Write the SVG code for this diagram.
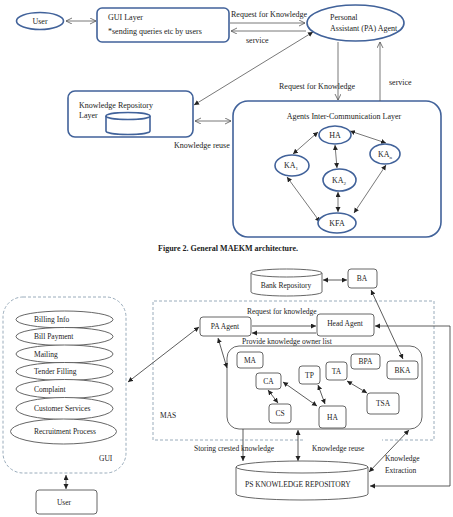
<svg xmlns="http://www.w3.org/2000/svg" width="453" height="517" viewBox="0 0 453 517">
<defs>
<style>
.b{fill:#fff;stroke:#41629a;stroke-width:1.6}
.bn{fill:none;stroke:#41629a;stroke-width:1.6}
.c{stroke:#555;stroke-width:0.8;fill:none}
.k{stroke:#333;stroke-width:0.8;fill:none}
.n{fill:#fff;stroke:#555;stroke-width:0.9}
.nn{fill:none;stroke:#555;stroke-width:0.9}
.d{fill:none;stroke:#8fa3b3;stroke-width:0.9;stroke-dasharray:3 2}
.t{font-family:"Liberation Serif","Times New Roman",serif;font-size:8px;fill:#222}
.s{font-family:"Liberation Serif","Times New Roman",serif;font-size:7.5px;fill:#222}
.m{text-anchor:middle}
</style>
<marker id="o" markerUnits="userSpaceOnUse" markerWidth="8" markerHeight="8" refX="6" refY="3" orient="auto-start-reverse"><path d="M0,0 L6,3 L0,6" fill="none" stroke="#555" stroke-width="0.8"/></marker>
<marker id="f" markerUnits="userSpaceOnUse" markerWidth="8" markerHeight="8" refX="5" refY="2.5" orient="auto-start-reverse"><path d="M0,0 L5,2.5 L0,5 z" fill="#222"/></marker>
</defs>
<rect width="453" height="517" fill="#fff"/>

<g id="aic-layer"><rect class="bn" x="233" y="101" width="208" height="136" rx="15"/><text class="t m" x="344" y="119">Agents Inter-Communication Layer</text></g>
<g id="gui"><rect class="d" x="3" y="297" width="123" height="176" rx="20"/></g>
<g id="mas"><path class="d" d="M303,440 H153 V301 H434 V440 H382"/><text class="s" x="160" y="418">MAS</text></g>
<g id="agents-box"><rect class="nn" x="227" y="346" width="195" height="83" rx="12"/></g>

<g id="connectors">
<line class="c" x1="66" y1="21" x2="96" y2="21" marker-start="url(#o)" marker-end="url(#o)"/>
<line class="c" x1="230" y1="23" x2="305" y2="23" marker-end="url(#o)"/>
<line class="c" x1="306" y1="31" x2="231" y2="31" marker-end="url(#o)"/>
<line class="c" x1="313" y1="32" x2="194" y2="105" marker-start="url(#f)" marker-end="url(#f)"/>
<line class="c" x1="338" y1="42" x2="338" y2="100" stroke="#888" marker-end="url(#o)"/>
<line class="c" x1="380" y1="101" x2="380" y2="42" stroke="#888" marker-end="url(#o)"/>
<line class="c" x1="195" y1="121" x2="231" y2="121" marker-start="url(#o)" marker-end="url(#o)"/>
<line class="c" x1="318" y1="132" x2="293" y2="154" marker-start="url(#f)" marker-end="url(#f)"/>
<line class="c" x1="350" y1="131" x2="386" y2="143" marker-start="url(#f)" marker-end="url(#f)"/>
<line class="c" x1="335" y1="145" x2="337" y2="168" marker-start="url(#f)" marker-end="url(#f)"/>
<line class="c" x1="338" y1="192" x2="338" y2="212" stroke-width="1.4" marker-start="url(#f)" marker-end="url(#f)"/>
<line class="c" x1="287" y1="177" x2="320" y2="222" marker-start="url(#f)" marker-end="url(#f)"/>
<line class="c" x1="386" y1="165" x2="354" y2="213" marker-start="url(#f)" marker-end="url(#f)"/>

<line class="k" x1="323" y1="280" x2="347" y2="280" marker-start="url(#f)" marker-end="url(#f)"/>
<line class="k" x1="371" y1="290" x2="403" y2="359" marker-start="url(#f)" marker-end="url(#f)"/>
<line class="k" x1="252" y1="326" x2="316" y2="326" marker-end="url(#f)"/>
<line class="k" x1="316" y1="333" x2="252" y2="333" marker-end="url(#f)"/>
<polyline class="k" points="450,326 450,486 370,486" marker-end="url(#f)"/>
<line class="k" x1="450" y1="326" x2="375" y2="326" marker-end="url(#f)"/>
<line class="k" x1="218" y1="338" x2="227" y2="368" marker-start="url(#f)" marker-end="url(#f)"/>
<line class="k" x1="128" y1="382" x2="199" y2="327" marker-start="url(#f)" marker-end="url(#f)"/>
<line class="k" x1="66" y1="475" x2="66" y2="489" marker-start="url(#f)" marker-end="url(#f)"/>
<line class="k" x1="268" y1="390" x2="278" y2="403" marker-start="url(#f)" marker-end="url(#f)"/>
<line class="k" x1="283" y1="382" x2="317" y2="406" marker-start="url(#f)" marker-end="url(#f)"/>
<line class="k" x1="318" y1="385" x2="325" y2="404" marker-start="url(#f)" marker-end="url(#f)"/>
<line class="k" x1="347" y1="381" x2="367" y2="393" marker-start="url(#f)" marker-end="url(#f)"/>
<line class="k" x1="243" y1="429" x2="243" y2="461" marker-end="url(#f)"/>
<line class="k" x1="298" y1="430" x2="298" y2="461" marker-start="url(#f)" marker-end="url(#f)"/>
<line class="k" x1="369" y1="472" x2="409" y2="430" marker-start="url(#f)" marker-end="url(#f)"/>
</g>

<g id="user-top"><ellipse class="b" cx="40" cy="21" rx="23.5" ry="8.5"/><text class="t m" x="40" y="24">User</text></g>
<g id="gui-layer"><rect class="b" x="97" y="8" width="132" height="34" rx="5"/><text class="t" x="108" y="20">GUI Layer</text><text class="t" x="108" y="34">*sending queries etc by users</text></g>
<text class="t" x="231" y="17">Request for Knowledge</text>
<text class="t" x="246" y="43">service</text>
<g id="pa-agent-top"><ellipse class="b" cx="355.5" cy="23" rx="48.5" ry="18"/><text class="t" x="330" y="20">Personal</text><text class="t" x="330" y="31">Assistant (PA) Agent</text></g>
<text class="t" x="279" y="89">Request for Knowledge</text>
<text class="t" x="389" y="85">service</text>
<g id="kr-layer"><rect class="b" x="68" y="91" width="125" height="46" rx="7"/><text class="t" x="79" y="108">Knowledge Repository</text><text class="t" x="79" y="118">Layer</text>
<path class="b" d="M106,116 v15 a22,3.5 0 0 0 44,0 v-15"/><ellipse class="b" cx="128" cy="116" rx="22" ry="3.5"/></g>
<text class="t" x="174" y="148">Knowledge reuse</text>
<g id="ha-top"><ellipse class="b" cx="335" cy="135" rx="16" ry="9"/><text class="t m" x="335" y="138">HA</text></g>
<g id="ka1"><ellipse class="b" cx="292" cy="165.5" rx="17" ry="10.5"/><text class="t m" x="291" y="168">KA<tspan font-size="5" dy="2">1</tspan></text></g>
<g id="ka2"><ellipse class="b" cx="339.5" cy="180" rx="16.5" ry="11"/><text class="t m" x="339" y="183">KA<tspan font-size="5" dy="2">2</tspan></text></g>
<g id="kan"><ellipse class="b" cx="385" cy="154" rx="15" ry="10"/><text class="t m" x="385" y="157">KA<tspan font-size="5" dy="2">n</tspan></text></g>
<g id="kfa"><ellipse class="b" cx="337" cy="223" rx="19" ry="10"/><text class="t m" x="337" y="226">KFA</text></g>

<text class="t m" x="228" y="251" font-weight="bold">Figure 2. General MAEKM architecture.</text>

<g id="gui-services">
<ellipse class="n" cx="64.5" cy="319.5" rx="48.5" ry="8.5"/>
<ellipse class="n" cx="64.5" cy="336.5" rx="48.5" ry="9"/>
<ellipse class="n" cx="64.5" cy="354" rx="48.5" ry="9"/>
<ellipse class="n" cx="64.5" cy="371.5" rx="48.5" ry="9"/>
<ellipse class="n" cx="64.5" cy="389" rx="48.5" ry="9.5"/>
<ellipse class="n" cx="64.5" cy="408.5" rx="48.5" ry="11"/>
<ellipse class="n" cx="63.5" cy="431.5" rx="53" ry="12.5"/>
<text class="s" x="34" y="322">Billing Info</text>
<text class="s" x="34" y="339">Bill Payment</text>
<text class="s" x="34" y="356.5">Mailing</text>
<text class="s" x="34" y="374">Tender Filling</text>
<text class="s" x="34" y="391.5">Complaint</text>
<text class="s" x="34" y="411">Customer Services</text>
<text class="s" x="34" y="434">Recruitment Process</text>
<text class="s" x="99" y="461">GUI</text></g>
<g id="user"><rect class="n" x="36" y="490" width="61" height="24" rx="3"/><text class="s m" x="64" y="505">User</text></g>

<g id="bank-repo"><path class="n" d="M251,273 v19 a35.5,4 0 0 0 71,0 v-19"/><ellipse class="n" cx="286.5" cy="273" rx="35.5" ry="4"/><text class="s m" x="286" y="288">Bank Repository</text></g>
<g id="ba"><rect class="n" x="348" y="269" width="29" height="19" rx="3"/><text class="s m" x="362" y="281">BA</text></g>
<text class="s" x="247" y="314">Request for knowledge</text>
<g id="pa-agent"><rect class="n" x="200" y="317" width="51" height="19" rx="3"/><text class="s m" x="225" y="329">PA Agent</text></g>
<g id="head-agent"><rect class="n" x="317" y="314" width="57" height="22" rx="3"/><text class="s m" x="345" y="326">Head Agent</text></g>
<text class="s" x="242" y="344">Provide knowledge owner list</text>
<g id="ma"><rect class="n" x="237" y="352" width="26" height="16" rx="3"/><text class="s m" x="250" y="363">MA</text></g>
<g id="ca"><rect class="n" x="256" y="373" width="25" height="16" rx="3"/><text class="s m" x="268.5" y="384">CA</text></g>
<g id="cs"><rect class="n" x="269" y="404" width="22" height="19" rx="3"/><text class="s m" x="280" y="416">CS</text></g>
<g id="tp"><rect class="n" x="299" y="366" width="21" height="18" rx="3"/><text class="s m" x="309.5" y="378">TP</text></g>
<g id="ta"><rect class="n" x="326" y="362" width="21" height="18" rx="3"/><text class="s m" x="336.5" y="374">TA</text></g>
<g id="bpa"><rect class="n" x="351" y="354" width="29" height="15" rx="3"/><text class="s m" x="365.5" y="364">BPA</text></g>
<g id="bka"><rect class="n" x="387" y="361" width="31" height="18" rx="3"/><text class="s m" x="402.5" y="373">BKA</text></g>
<g id="ha"><rect class="n" x="319" y="406" width="27" height="22" rx="3"/><text class="s m" x="332.5" y="420">HA</text></g>
<g id="tsa"><rect class="n" x="367" y="393" width="32" height="21" rx="3"/><text class="s m" x="383" y="406">TSA</text></g>
<text class="s" x="194" y="451">Storing crested knowledge</text>
<text class="s" x="312" y="451">Knowledge reuse</text>
<text class="s" x="385" y="461">Knowledge</text>
<text class="s" x="385" y="473">Extraction</text>
<g id="ps-repo"><path class="n" d="M236,467 v27 a66,6 0 0 0 132,0 v-27"/><ellipse class="n" cx="302" cy="467" rx="66" ry="6"/><text class="s" x="245" y="487">PS KNOWLEDGE REPOSITORY</text></g>
</svg>
